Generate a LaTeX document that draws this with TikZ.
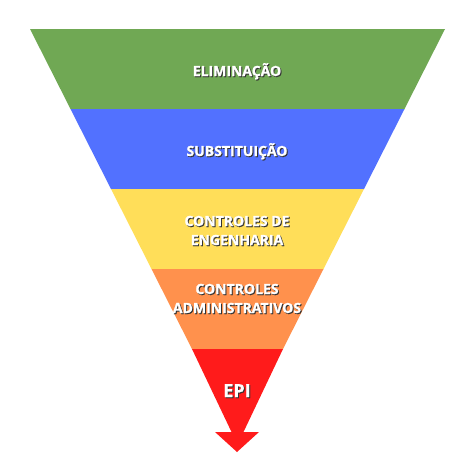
\documentclass[tikz,border=0pt]{standalone}
\usepackage{fontspec}
\setmainfont{Open Sans}[BoldFeatures={FakeBold=1.2}]
\definecolor{elimgreen}{HTML}{70A854}
\definecolor{substblue}{HTML}{5271FF}
\definecolor{engyellow}{HTML}{FFDE59}
\definecolor{admorange}{HTML}{FF914D}
\definecolor{epired}{HTML}{FF1B1B}
\definecolor{shadowgray}{HTML}{333333}

\begin{document}
\begin{tikzpicture}[x=1pt, y=-1pt,
  bandtext/.style={white, font=\bfseries\fontsize{14}{14}\selectfont, anchor=base, inner sep=0pt},
  bandshadow/.style={bandtext, shadowgray}]
\useasboundingbox [fill=white] (0,0) rectangle (474,474);
% bands of the inverted triangle
\fill [elimgreen] (30,29) -- (445,29) -- (404.5,109) -- (70.5,109) -- cycle;
\fill [substblue] (70.5,109) -- (404.5,109) -- (364,189) -- (111,189) -- cycle;
\fill [engyellow] (111,189) -- (364,189) -- (323.5,269) -- (151.5,269) -- cycle;
\fill [admorange] (151.5,269) -- (323.5,269) -- (283,349) -- (192,349) -- cycle;
\fill [epired] (192,349) -- (283,349) -- (243.5,432) -- (259,432) -- (237,452) -- (215,432) -- (231.5,432) -- cycle;
% labels
\node [bandshadow] (elimshadow) at (238,77) {ELIMINAÇÃO};
\node [bandtext] (elim) at (237,76) {ELIMINAÇÃO};
\node [bandshadow] (substshadow) at (238,157) {SUBSTITUIÇÃO};
\node [bandtext] (subst) at (237,156) {SUBSTITUIÇÃO};
\node [bandshadow] (engashadow) at (238,227) {CONTROLES DE};
\node [bandtext] (enga) at (237,226) {CONTROLES DE};
\node [bandshadow] (engbshadow) at (238,246) {ENGENHARIA};
\node [bandtext] (engb) at (237,245) {ENGENHARIA};
\node [bandshadow] (admashadow) at (238,295) {CONTROLES};
\node [bandtext] (adma) at (237,294) {CONTROLES};
\node [bandshadow] (admbshadow) at (238,314) {ADMINISTRATIVOS};
\node [bandtext] (admb) at (237,313) {ADMINISTRATIVOS};
\node [bandshadow, font=\bfseries\fontsize{18}{18}\selectfont] (epishadow) at (238,398) {EPI};
\node [bandtext, font=\bfseries\fontsize{18}{18}\selectfont] (epi) at (237,397) {EPI};
\end{tikzpicture}
\end{document}
